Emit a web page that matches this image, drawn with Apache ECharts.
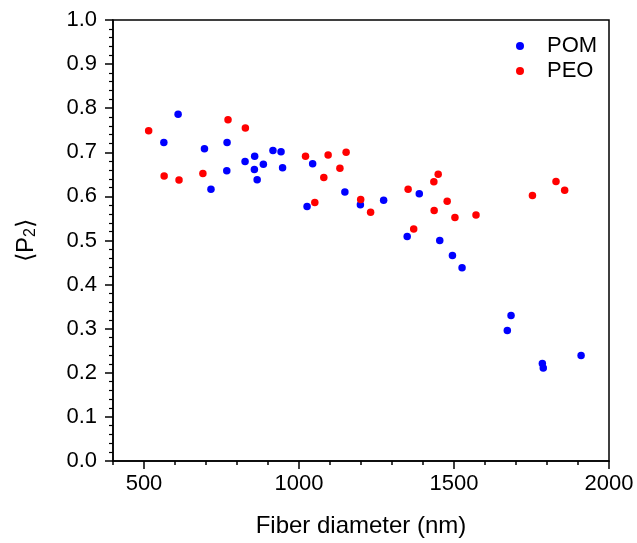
<!DOCTYPE html>
<html>
<head>
<meta charset="utf-8">
<script src="https://cdn.jsdelivr.net/npm/echarts@6/dist/echarts.min.js"></script>
<style>
  html, body { margin: 0; padding: 0; background: #fff; }
  #main { width: 637px; height: 543px; }
</style>
</head>
<body>
<div id="main"></div>
<script>
// POM fibers: diameter (nm) and <P2>
var pomDiameter = [564, 610, 695, 716, 768, 767, 826, 857, 856, 865, 885, 916, 942, 947,
    1026, 1044, 1148, 1198, 1273, 1349, 1388, 1454, 1495, 1526, 1672, 1684, 1785, 1788, 1910];
var pomP2 = [0.722, 0.786, 0.708, 0.616, 0.722, 0.658, 0.679, 0.691, 0.661, 0.638, 0.673, 0.704, 0.701, 0.665,
    0.577, 0.674, 0.610, 0.581, 0.591, 0.509, 0.606, 0.500, 0.466, 0.438, 0.296, 0.330, 0.221, 0.211, 0.239];

// PEO fibers
var peoDiameter = [515, 565, 613, 690, 771, 827, 1021, 1051, 1080, 1094, 1132, 1152, 1199,
    1231, 1352, 1370, 1435, 1449, 1436, 1478, 1503, 1571, 1753, 1829, 1857];
var peoP2 = [0.749, 0.646, 0.637, 0.652, 0.774, 0.755, 0.691, 0.586, 0.643, 0.694, 0.664, 0.700, 0.593,
    0.564, 0.616, 0.526, 0.633, 0.650, 0.568, 0.589, 0.552, 0.558, 0.602, 0.634, 0.614];

var xMajorTicks = [500, 1000, 1500, 2000];

function pairs(xs, ys) {
    var out = [];
    for (var i = 0; i < xs.length; i++) out.push([xs[i], ys[i]]);
    return out;
}

var chart = echarts.init(document.getElementById('main'));
var font = 'Liberation Sans, Arial, sans-serif';

var option = {
    animation: false,
    backgroundColor: '#fff',
    textStyle: { fontFamily: font, color: '#000' },
    grid: {
        left: 113, right: 28, top: 20, bottom: 80,
        show: true, borderColor: '#000', borderWidth: 1.5
    },
    legend: {
        orient: 'vertical',
        left: 511, top: 30,
        itemWidth: 8, itemHeight: 8, itemGap: 3,
        icon: 'circle',
        textStyle: { fontSize: 22, color: '#000', fontFamily: font, padding: [0, 0, 0, 18] },
        data: ['POM', 'PEO']
    },
    xAxis: [
        {
            type: 'value', min: 400, max: 2000, interval: 100,
            name: 'Fiber diameter (nm)', nameLocation: 'middle', nameGap: 53,
            nameTextStyle: { fontSize: 24, color: '#000', fontFamily: font },
            axisLine: { lineStyle: { color: '#000', width: 1.5 } },
            axisTick: { length: 4, lineStyle: { color: '#000', width: 1.5 } },
            axisLabel: {
                customValues: xMajorTicks, fontSize: 22, color: '#000', margin: 12,
                fontFamily: font,
                formatter: function (v) { return String(v); }
            },
            splitLine: { show: false }
        },
        {
            type: 'value', min: 400, max: 2000, position: 'bottom',
            axisLine: { show: false },
            axisTick: { customValues: xMajorTicks, length: 8, lineStyle: { color: '#000', width: 1.5 } },
            axisLabel: { show: false },
            splitLine: { show: false }
        }
    ],
    yAxis: {
        type: 'value', min: 0, max: 1, interval: 0.1,
        name: '{a|\u27E8P}{s|2}{a|\u27E9}', nameLocation: 'middle', nameGap: 74, nameRotate: 90,
        nameTextStyle: {
            rich: {
                a: { fontSize: 24, color: '#000', fontFamily: font },
                s: { fontSize: 16, color: '#000', fontFamily: font, padding: [10, 0, 0, 0] }
            }
        },
        axisLine: { show: true, lineStyle: { color: '#000', width: 1.5 } },
        axisTick: { show: true, length: 8, lineStyle: { color: '#000', width: 1.5 } },
        minorTick: { show: true, splitNumber: 5, length: 4, lineStyle: { color: '#000', width: 1.2 } },
        axisLabel: {
            fontSize: 22, color: '#000', margin: 16, fontFamily: font,
            formatter: function (v) { return v.toFixed(1); }
        },
        splitLine: { show: false }
    },
    series: [
        {
            name: 'POM', type: 'scatter', symbolSize: 7.5,
            itemStyle: { color: '#0000ff', opacity: 1 },
            data: pairs(pomDiameter, pomP2)
        },
        {
            name: 'PEO', type: 'scatter', symbolSize: 7.5,
            itemStyle: { color: '#ff0000', opacity: 1 },
            data: pairs(peoDiameter, peoP2)
        }
    ]
};

chart.setOption(option);
</script>
</body>
</html>
